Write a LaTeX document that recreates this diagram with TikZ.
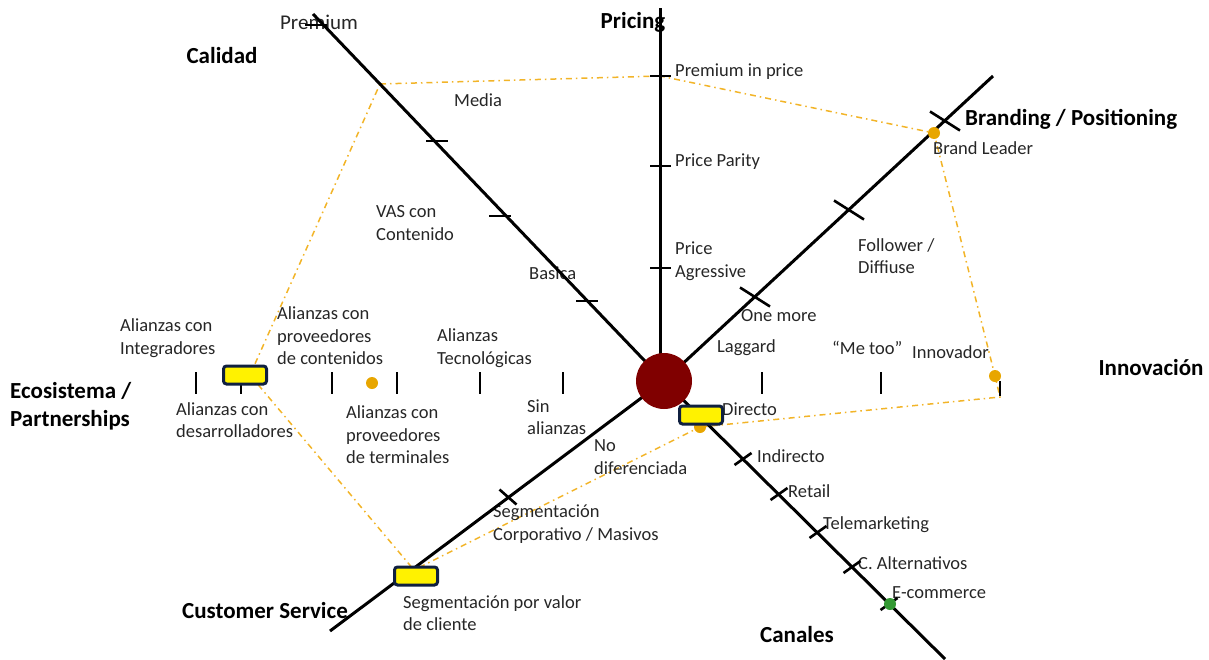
\documentclass[tikz,border=0pt]{standalone}
\usepackage{fontspec}
\setmainfont{Carlito}
\usetikzlibrary{calc}

\definecolor{hubred}{RGB}{128,0,0}
\definecolor{dotorange}{RGB}{232,166,0}
\definecolor{lineorange}{RGB}{242,180,40}
\definecolor{boxnavy}{RGB}{16,32,64}
\definecolor{txtgray}{RGB}{38,38,38}
\definecolor{dotgreen}{RGB}{51,153,51}

\tikzset{
  axisline/.style={line width=3pt, black},
  tickmark/.style={line width=2.6pt, black},
  profile/.style={lineorange, line width=1.5pt, dash pattern=on 6pt off 4pt on 1.5pt off 4pt},
  lbl/.style={anchor=west, inner sep=0pt, align=left, text=txtgray, font=\fontsize{18.5}{22.5}\selectfont},
  head/.style={inner sep=0pt, align=left, font=\fontsize{23}{28}\selectfont\bfseries},
  selbox/.style={draw=boxnavy, line width=3pt, fill=yellow, rounded corners=3pt, minimum width=43pt, minimum height=18pt, inner sep=0pt},
  odot/.style={circle, fill=dotorange, minimum size=12pt, inner sep=0pt},
}

\begin{document}
\begin{tikzpicture}[x=1pt,y=-1pt]
\useasboundingbox (0,0) rectangle (1209,659);

% axis ends
\coordinate (centre) at (664,381);
\coordinate (calTop) at (313,14);
\coordinate (priTop) at (660,8);
\coordinate (braTop) at (993,76);
\coordinate (canEnd) at (945,659);
\coordinate (cusEnd) at (330,631);

% profile points
\coordinate (vCal) at (380,84);
\coordinate (vPri) at (660,76);
\coordinate (vBrand) at (934,133);
\coordinate (vInnoDot) at (995,376);
\coordinate (vInno) at (1000,397);
\coordinate (vCan) at (700,427);
\coordinate (vCus) at (414,570);
\coordinate (vEco) at (250,375);

\draw[profile] (vCal) -- (vPri) -- (vBrand) -- (vInnoDot) -- (vInno) -- (vCan) -- (vCus) -- (vEco) -- cycle;

% axis titles
\node[head] (tCal) at (222,56) {Calidad};
\node[head] (tPri) at (633,22) {Pricing};
\node[head, anchor=west] (tBra) at (965,119) {Branding / Positioning};
\node[head] (tInn) at (1151,368) {Innovación};
\node[head, anchor=west] (tEco) at (10,406) {Ecosistema /\\Partnerships};
\node[head] (tCus) at (265,611) {Customer Service};
\node[head] (tCan) at (797,635) {Canales};
\node[lbl, anchor=center, font=\fontsize{21}{25}\selectfont] (lPremium) at (319,22) {Premium};

% value labels
\node[lbl] (lMedia) at (454,100) {Media};
\node[lbl] (lVas) at (376,223) {VAS con\\Contenido};
\node[lbl] (lBasica) at (529,273) {Basica};
\node[lbl] (lPip) at (675,72) {Premium in price};
\node[lbl] (lParity) at (675,162) {Price Parity};
\node[lbl] (lAgr) at (675,261) {Price\\Agressive};
\node[lbl] (lLeader) at (933,148) {Brand Leader};
\node[lbl] (lFollow) at (858,256) {Follower /\\Diffiuse};
\node[lbl] (lOne) at (741,316) {One more};
\node[lbl] (lLag) at (717,348) {Laggard};
\node[lbl] (lMeToo) at (832,348) {“Me too”};
\node[lbl] (lInnov) at (912,352) {Innovador};
\node[lbl] (lInteg) at (120,338) {Alianzas con\\Integradores};
\node[lbl] (lCont) at (277,336) {Alianzas con\\proveedores\\de contenidos};
\node[lbl] (lTec) at (437,348) {Alianzas\\Tecnológicas};
\node[lbl] (lDesa) at (176,420) {Alianzas con\\desarrolladores};
\node[lbl] (lTerm) at (346,435) {Alianzas con\\proveedores\\de terminales};
\node[lbl] (lSin) at (527,417) {Sin\\alianzas};
\node[lbl] (lNoDif) at (594,457) {No\\diferenciada};
\node[lbl] (lDir) at (722,409) {Directo};
\node[lbl] (lIndir) at (757,456) {Indirecto};
\node[lbl] (lRetail) at (788,491) {Retail};
\node[lbl] (lTele) at (823,525) {Telemarketing};
\node[lbl] (lAlt) at (858,563) {C. Alternativos};
\node[lbl] (lEcom) at (892,593) {E-commerce};
\node[lbl] (lSegCorp) at (493,524) {Segmentación\\Corporativo / Masivos};
\node[lbl] (lSegVal) at (403,613) {Segmentación por valor\\de cliente};

% axes
\draw[axisline] (calTop) -- (centre);
\draw[axisline] (priTop) -- (priTop |- centre);
\draw[axisline] (braTop) -- (centre);
\draw[axisline] (canEnd) -- (centre);
\draw[axisline] (cusEnd) -- (centre);

% ticks
\foreach \p in {(316,25),(437,141),(500,216),(587,301)}
  \draw[tickmark] \p ++(-11,0) -- ++(22,0);
\foreach \y in {76,166,268}
  \draw[tickmark] (650,\y) -- (671,\y);
\foreach \x in {196,241,332,397,480,563,762,881}
  \draw[tickmark] (\x,372) -- (\x,394);
\draw[tickmark] (1000,381) -- (1000,396);
\foreach \p in {(755,297),(849,210),(945,121)}
  \draw[tickmark] \p ++(-15,-9.5) -- ++(30,19);
\foreach \p in {(743,459),(779,494),(818,532),(852,567),(889,604)}
  \draw[tickmark] \p ++(-8.5,6) -- ++(17,-12);
\draw[tickmark] (508,497) ++(-8.5,-7.5) -- ++(17,15);

% hub and markers
\node[circle, fill=hubred, minimum size=56pt, inner sep=0pt] (hub) at (centre) {};
\node[odot] (dBrand) at (vBrand) {};
\node[odot] (dInno) at (vInnoDot) {};
\node[odot] (dCan) at (vCan) {};
\node[odot] (dTerm) at (372,383) {};
\node[circle, fill=dotgreen, minimum size=12pt, inner sep=0pt] (dEcom) at (890,604) {};

\node[selbox] (bEco) at (245,375) {};
\node[selbox] (bCan) at (701,415) {};
\node[selbox] (bCus) at (416,576) {};
\end{tikzpicture}
\end{document}
